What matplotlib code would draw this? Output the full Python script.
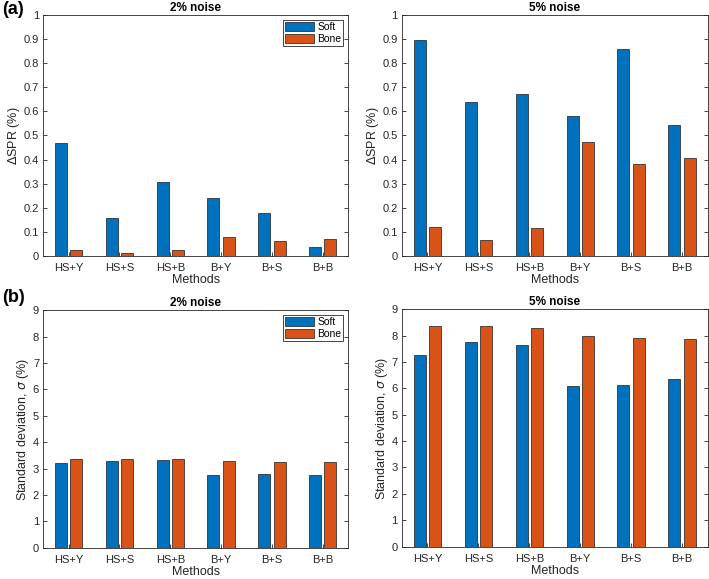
import numpy as np
import matplotlib
matplotlib.use('Agg')
import matplotlib.pyplot as plt

plt.rcParams['font.family'] = ['Liberation Sans', 'DejaVu Sans']

methods = ['HS+Y', 'HS+S', 'HS+B', 'B+Y', 'B+S', 'B+B']

# (a) delta SPR (%)
spr_soft_2 = [0.467, 0.156, 0.305, 0.240, 0.178, 0.037]
spr_bone_2 = [0.023, 0.012, 0.025, 0.079, 0.063, 0.069]
spr_soft_5 = [0.898, 0.637, 0.672, 0.580, 0.860, 0.542]
spr_bone_5 = [0.119, 0.065, 0.116, 0.474, 0.380, 0.405]

# (b) standard deviation (%)
std_soft_2 = [3.22, 3.28, 3.32, 2.76, 2.79, 2.74]
std_bone_2 = [3.37, 3.37, 3.36, 3.28, 3.25, 3.24]
std_soft_5 = [7.27, 7.74, 7.65, 6.08, 6.13, 6.37]
std_bone_5 = [8.35, 8.37, 8.29, 7.98, 7.92, 7.88]

blue = '#0072BD'
orange = '#D95319'
axcol = '#262626'

fig = plt.figure(figsize=[7.09, 5.79], dpi=100, facecolor='white')

pos = [[0.061, 0.558, 0.430, 0.416],
       [0.567, 0.558, 0.431, 0.416],
       [0.061, 0.054, 0.430, 0.410],
       [0.567, 0.056, 0.431, 0.410]]

panels = [(spr_soft_2, spr_bone_2, '2% noise', r'$\Delta$SPR (%)', 1, 0.1, True),
          (spr_soft_5, spr_bone_5, '5% noise', r'$\Delta$SPR (%)', 1, 0.1, False),
          (std_soft_2, std_bone_2, '2% noise', r'Standard deviation, $\sigma$ (%)', 9, 1, True),
          (std_soft_5, std_bone_5, '5% noise', r'Standard deviation, $\sigma$ (%)', 9, 1, False)]

x = np.arange(1, len(methods) + 1)
w = 0.235
off = 0.152

for p, (soft, bone, title, ylab, ymax, step, leg) in zip(pos, panels):
    ax = fig.add_axes(p)
    ax.bar(x - off, soft, w, color=blue, edgecolor='#1a1a1a', linewidth=0.5, label='Soft')
    ax.bar(x + off, bone, w, color=orange, edgecolor='#1a1a1a', linewidth=0.5, label='Bone')
    ax.set_xlim(0.5, 6.5)
    ax.set_ylim(0, ymax)
    ax.set_xticks(x)
    ax.set_xticklabels(methods)
    yt = np.arange(0, ymax + step / 2, step)
    ax.set_yticks(yt)
    if step < 1:
        ax.set_yticklabels(['0'] + ['%g' % round(v, 1) for v in yt[1:]])
    ax.tick_params(direction='in', length=3, width=0.6, labelsize=8, colors=axcol,
                   top=True, right=True, pad=3)
    ax.tick_params(axis='x', top=False, pad=5)
    for s in ax.spines.values():
        s.set_color(axcol)
        s.set_linewidth(0.6)
    ax.set_title(title, fontsize=8.5, fontweight='bold', pad=3, color='black')
    ax.set_xlabel('Methods', fontsize=9, color=axcol, labelpad=1)
    ax.set_ylabel(ylab, fontsize=9, color=axcol, labelpad=1)
    if leg:
        lg = ax.legend(loc='upper right', fontsize=7.5, fancybox=False, framealpha=1,
                       edgecolor=axcol, handlelength=2.8, handleheight=1.0,
                       handletextpad=0.3, borderpad=0.2, labelspacing=0.15,
                       borderaxespad=0.45)
        lg.get_frame().set_linewidth(0.6)

fig.text(0.003, 0.998, '(a)', fontsize=13, fontweight='bold', va='top', ha='left')
fig.text(0.003, 0.500, '(b)', fontsize=13, fontweight='bold', va='top', ha='left')

fig.savefig('out.png', dpi=100)
